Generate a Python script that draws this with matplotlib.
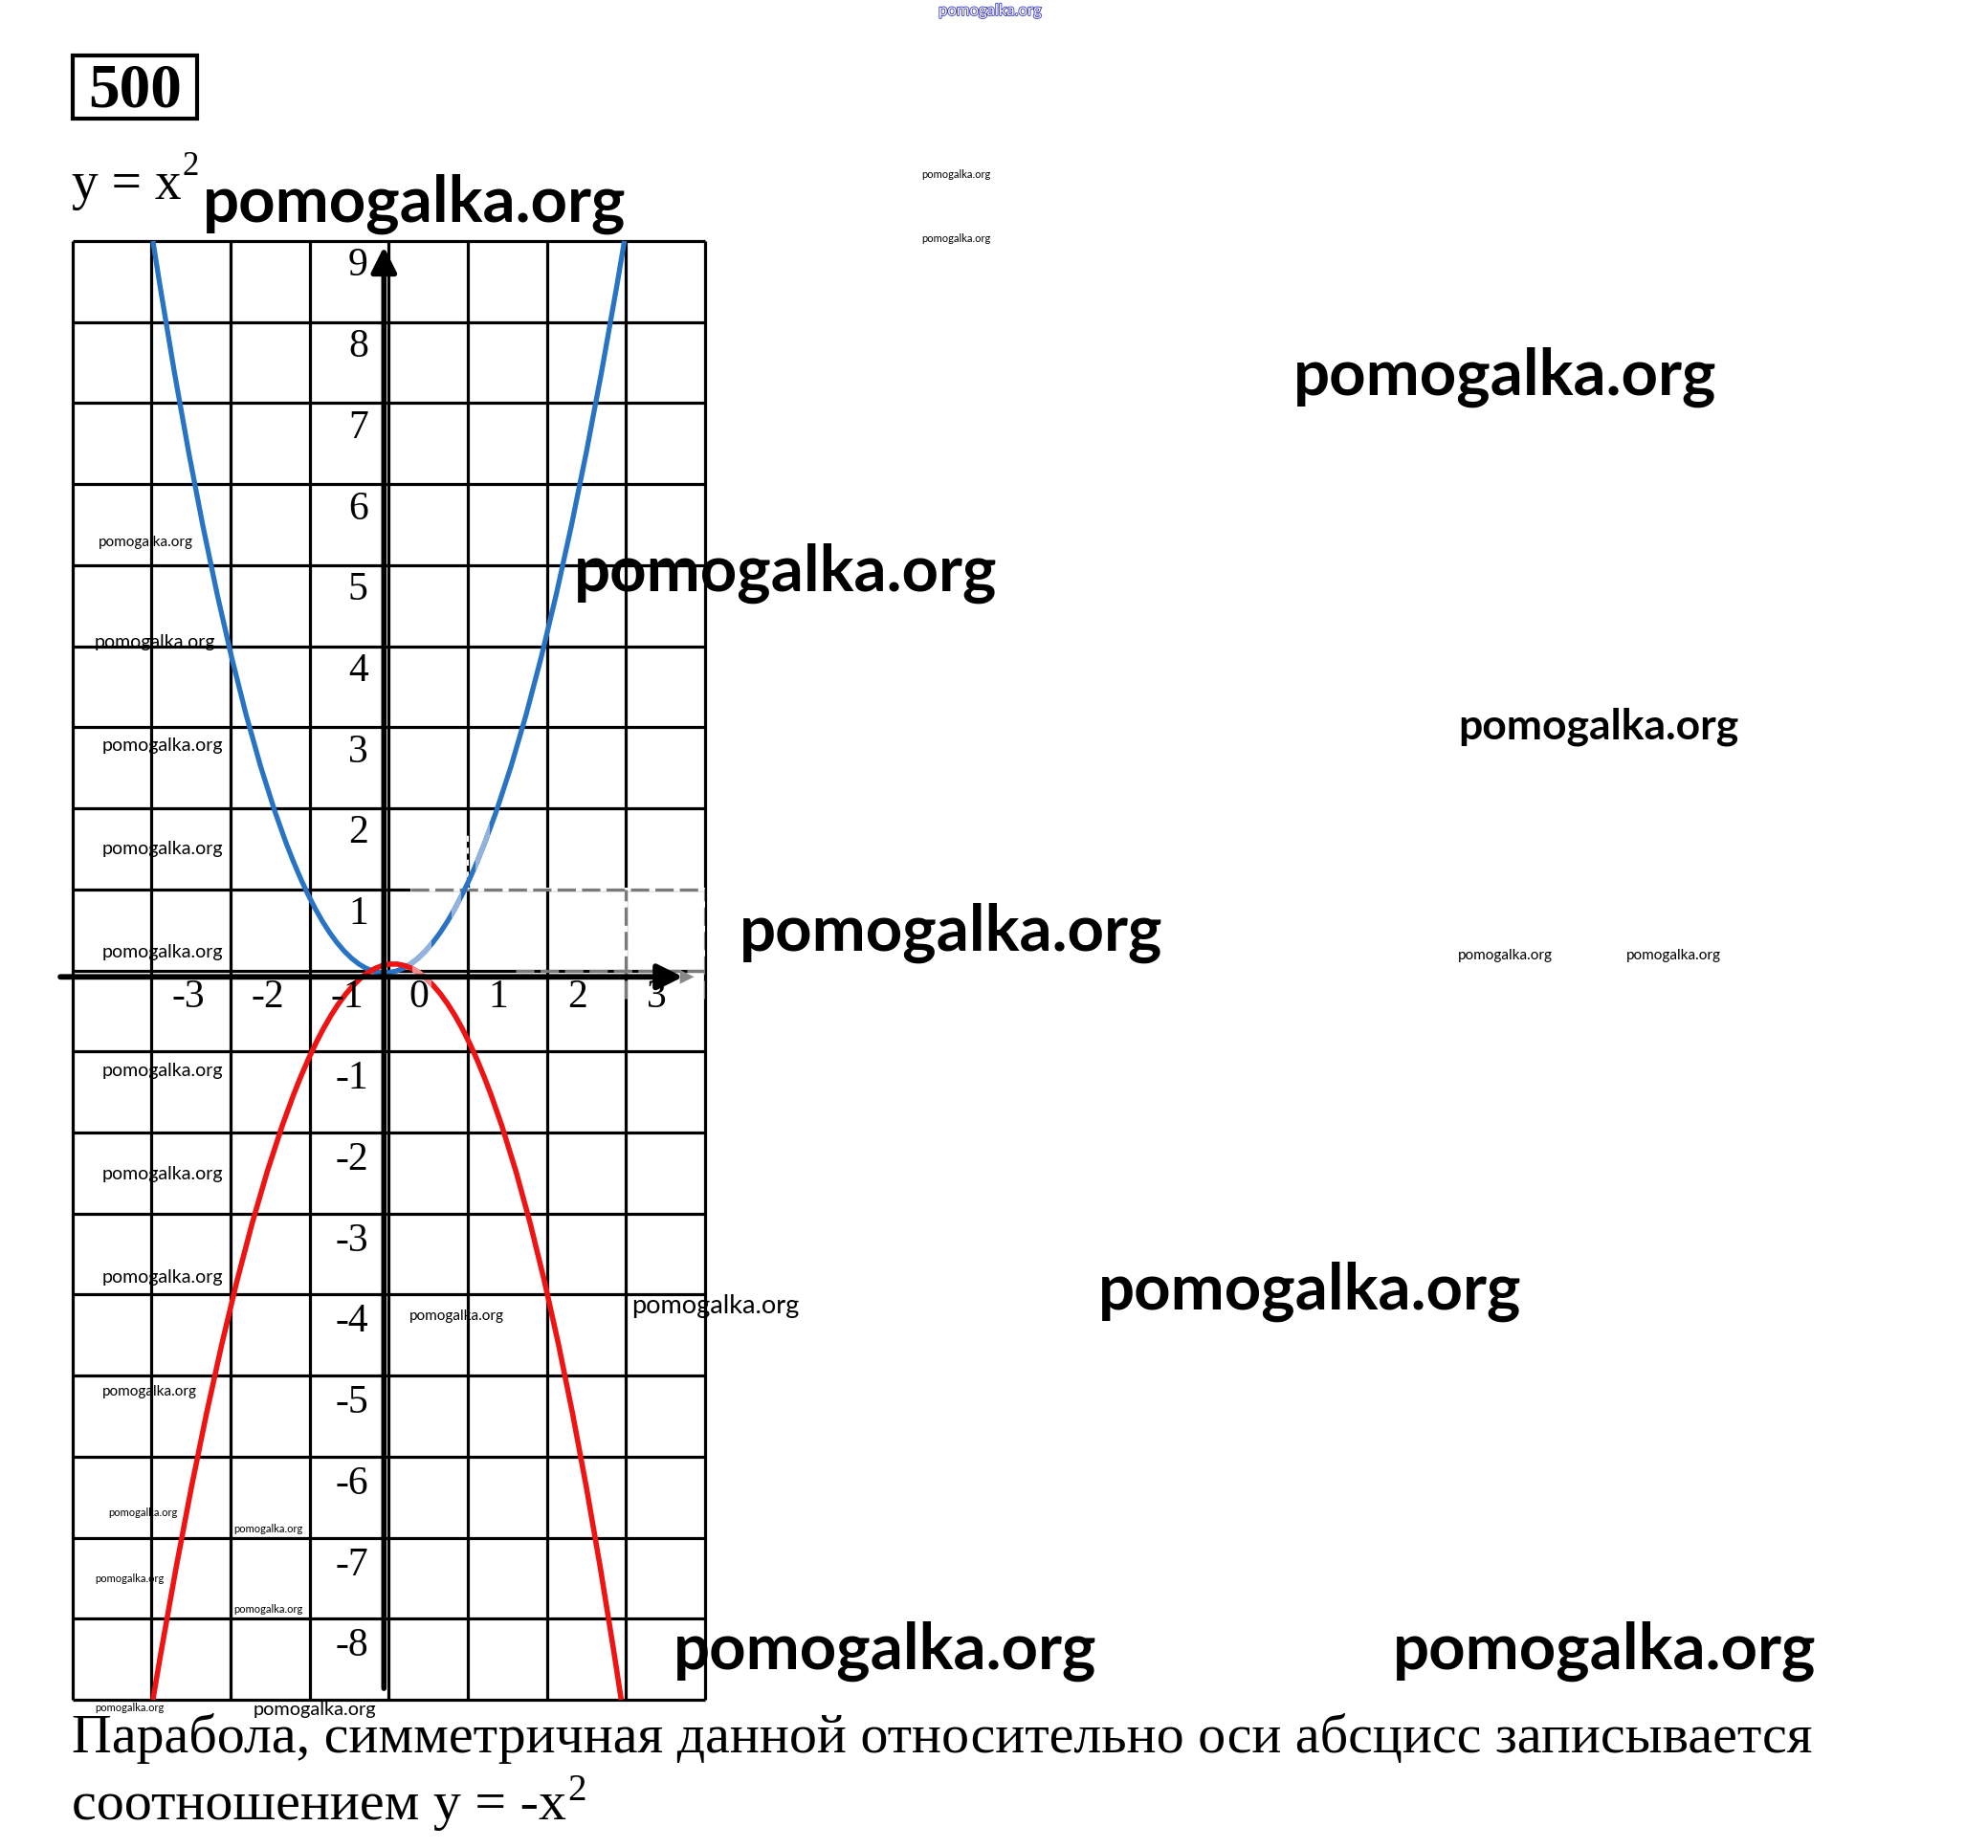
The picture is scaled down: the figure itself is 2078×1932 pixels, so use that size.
import matplotlib
matplotlib.use("Agg")
import matplotlib.pyplot as plt
from matplotlib.path import Path
from matplotlib.patches import PathPatch, Rectangle
import matplotlib.patheffects as pe

W, H = 2078, 1932

# grid of the drawing
grid_x = [-4, -3, -2, -1, 0, 1, 2, 3, 4]
grid_y = list(range(-9, 10))
x_ticks = [-3, -2, -1, 0, 1, 2, 3]
y_ticks = [9, 8, 7, 6, 5, 4, 3, 2, 1, -1, -2, -3, -4, -5, -6, -7, -8]

# parabolas: left end, vertex, right end
blue_pts = [(-2.98, 9.0), (-0.05, -0.03), (2.98, 9.0)]   # y = x^2
red_pts = [(-2.98, -9.0), (0.06, 0.08), (2.94, -9.0)]    # y = -x^2

title_num = "500"
formula_top = "y = x"
text_line1 = "Парабола, симметричная данной относительно оси абсцисс записывается"
text_line2 = "соотношением y = -x"

SERIF = "Liberation Serif"


def parabola_path(pts):
    (x0, y0), (xv, yv), (x2, y2) = pts
    cx = 2 * xv - (x0 + x2) / 2
    cy = 2 * yv - (y0 + y2) / 2
    return Path([(x0, y0), (cx, cy), (x2, y2)],
                [Path.MOVETO, Path.CURVE3, Path.CURVE3])


fig = plt.figure(figsize=(W / 100, H / 100), dpi=100)

left, right, top, bottom = 75.5, 737, 252, 1777
ax = fig.add_axes([left / W, 1 - bottom / H, (right - left) / W, (bottom - top) / H])
ax.set_xlim(-4, 4)
ax.set_ylim(-9, 9)
ax.axis("off")

# grid
ax.vlines(grid_x, -9, 9, color="black", lw=2.3, clip_on=False, zorder=1)
ax.hlines(grid_y, -4, 4, color="black", lw=2.3, clip_on=False, zorder=1)

# scan artefact: grey dashed box on the right of the origin
ax.hlines(1, 0.27, 4, color="white", lw=2.8, zorder=1.5)
ax.hlines(1, 0.27, 4, color="#7a7a7a", lw=2.3, linestyles=(0, (6, 2)), zorder=1.6)
ax.vlines([3, 4], 0, 1, color="white", lw=2.8, zorder=1.5)
ax.vlines([3, 4], -0.35, 1, color="#7a7a7a", lw=2.3, linestyles=(0, (6, 2)), zorder=1.6)
ax.vlines(1, 1, 1.7, color="white", lw=1.5, linestyles=(0, (3, 3)), zorder=1.6)
ax.hlines(0, 1.6, 4, color="#7a7a7a", lw=2.3, linestyles=(0, (6, 2)), zorder=1.6)

# curves
blue = "#2873c3"
red = "#ee1414"
ax.add_patch(PathPatch(parabola_path(blue_pts), fill=False, ec=blue, lw=3.8,
                       capstyle="butt", zorder=3, clip_on=False))
ax.add_patch(PathPatch(parabola_path(red_pts), fill=False, ec=red, lw=4.0,
                       capstyle="butt", zorder=4, clip_on=False))

# lighter pieces of the curves near the origin
for x0, x1 in [(0.24, 0.54), (0.8, 0.92), (1.1, 1.28)]:
    p = PathPatch(parabola_path(blue_pts), fill=False, ec="#93b3dc", lw=4.0, zorder=3.5)
    ax.add_patch(p)
    p.set_clip_path(Rectangle((x0, -0.5), x1 - x0, 3, transform=ax.transData))
p = PathPatch(parabola_path(red_pts), fill=False, ec="#f08c8c", lw=4.2, zorder=4.5)
ax.add_patch(p)
p.set_clip_path(Rectangle((0.3, -0.6), 0.24, 0.7, transform=ax.transData))

# axes with arrows
ax.annotate("", xy=(3.72, -0.08), xytext=(-4.15, -0.08), annotation_clip=False,
            arrowprops=dict(arrowstyle="-|>", lw=4.2, color="black",
                            mutation_scale=40, shrinkA=0, shrinkB=0), zorder=5)
ax.annotate("", xy=(3.86, -0.08), xytext=(3.72, -0.08), annotation_clip=False,
            arrowprops=dict(arrowstyle="-|>", lw=0.1, color="#888888",
                            mutation_scale=26, shrinkA=0, shrinkB=0), zorder=4.9)
ax.annotate("", xy=(-0.06, 8.93), xytext=(-0.06, -8.86), annotation_clip=False,
            arrowprops=dict(arrowstyle="-|>", lw=4.0, color="black",
                            mutation_scale=40, shrinkA=0, shrinkB=0), zorder=5)

# tick labels
for k in x_ticks:
    ax.text(k + 0.26, -0.46, str(k), family=SERIF, fontsize=30, ha="left",
            va="baseline", zorder=6)
for k in y_ticks:
    off = 0.43 if k > 0 else 0.46
    ax.text(-0.26, k - off, str(k), family=SERIF, fontsize=30, ha="right",
            va="baseline", zorder=6)

# overlay in pixel coordinates for the page texts
ov = fig.add_axes([0, 0, 1, 1])
ov.set_xlim(0, W)
ov.set_ylim(H, 0)
ov.axis("off")
ov.patch.set_alpha(0)

ov.add_patch(Rectangle((76, 58), 130, 66, fill=False, ec="black", lw=3))
ov.text(141, 111, title_num, family=SERIF, weight="bold", fontsize=47,
        ha="center", va="baseline")

fig.canvas.draw()
r = fig.canvas.get_renderer()


def text_with_sup(x, y, s, size, sup_size, rise):
    t = ov.text(x, y, s, family=SERIF, fontsize=size, ha="left", va="baseline")
    bb = t.get_window_extent(renderer=r)
    x1 = bb.x1 * W / fig.bbox.width
    ov.text(x1 + 1, y - rise, "2", family=SERIF, fontsize=sup_size,
            ha="left", va="baseline")


text_with_sup(75, 208, formula_top, 40, 25, 25)
ov.text(75, 1832, text_line1, family=SERIF, fontsize=41.8, ha="left", va="baseline")
text_with_sup(75, 1902, text_line2, 41.8, 28, 20)

# watermarks: left, baseline, size, weight
marks = [
    (212, 232, 48.3, "bold"), (1352, 413, 48.3, "bold"), (600, 618, 48.3, "bold"),
    (1524, 773, 32, "bold"), (773, 994, 48.3, "bold"), (1148, 1369, 48.3, "bold"),
    (704, 1745, 48.3, "bold"), (1456, 1745, 48.3, "bold"),
    (963, 186, 8, "normal"), (963, 253, 8, "normal"),
    (103, 571, 11, "normal"), (99, 677, 14, "normal"), (107, 785, 14, "normal"),
    (107, 893, 14, "normal"), (107, 1001, 14, "normal"), (107, 1125, 14, "normal"),
    (107, 1233, 14, "normal"), (107, 1341, 14, "normal"), (107, 1459, 11, "normal"),
    (428, 1380, 11, "normal"), (660, 1373, 19.5, "normal"),
    (113, 1585, 8, "normal"), (244, 1602, 8, "normal"), (99, 1654, 8, "normal"),
    (244, 1686, 8, "normal"), (99, 1789, 8, "normal"), (265, 1793, 14.3, "normal"),
    (1524, 1003, 11, "normal"), (1700, 1003, 11, "normal"),
]
for x, y, s, w in marks:
    ov.text(x, y, "pomogalka.org", family="Lato", weight=w, fontsize=s,
            ha="left", va="baseline", zorder=7)

ov.text(981, 16, "pomogalka.org", family="Lato", fontsize=12, color="white",
        ha="left", va="baseline",
        path_effects=[pe.withStroke(linewidth=1.2, foreground="#3535c8")])

fig.savefig("out.png", dpi=100)
